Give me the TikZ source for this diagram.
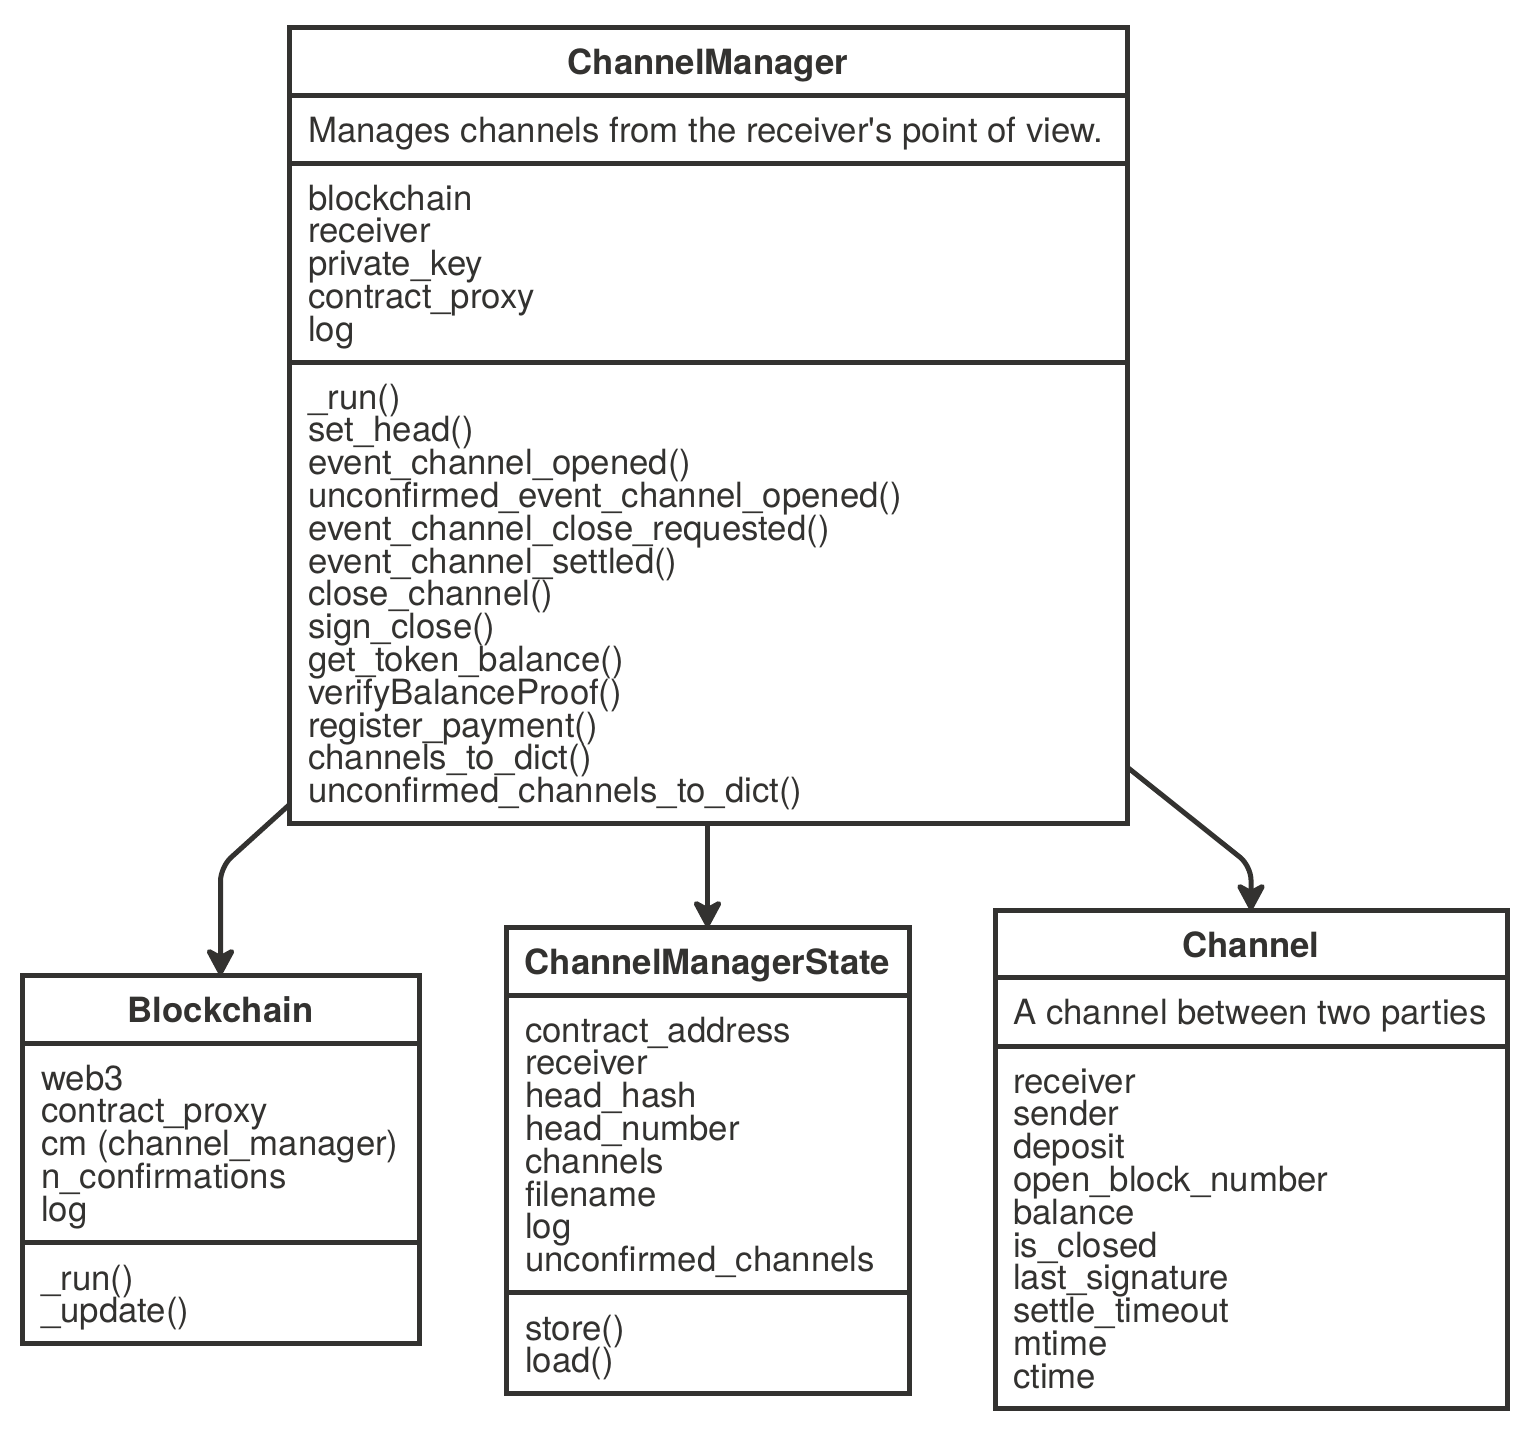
\documentclass[tikz,border=0pt]{standalone}
\usepackage{fontspec}
\setmainfont{TeX Gyre Heros}
\usetikzlibrary{arrows.meta,calc}
\definecolor{ink}{HTML}{333230}
\begin{document}
\begin{tikzpicture}[x=1pt,y=-1pt,
  box/.style={draw=ink,line width=5pt,inner sep=0pt,outer sep=0pt,anchor=north west,fill=white},
  txt/.style={text=ink,font=\fontsize{34.75}{40}\selectfont,inner sep=0pt,anchor=base west},
  ttl/.style={text=ink,font=\fontsize{34.75}{40}\selectfont\bfseries,inner sep=0pt,anchor=base},
  div/.style={draw=ink,line width=5pt},
  conn/.style={draw=ink,line width=5pt,rounded corners=14pt,arrows={-Stealth[length=32pt,width=34pt,inset=9pt,round]}}]
\useasboundingbox (0,0) rectangle (1522,1428);

% ---------- ChannelManager ----------
\node[box,minimum width=838pt,minimum height=796pt] (cm) at (289,27) {};
\draw[div] (cm.west |- 0,95) -- (cm.east |- 0,95);
\draw[div] (cm.west |- 0,163) -- (cm.east |- 0,163);
\draw[div] (cm.west |- 0,362) -- (cm.east |- 0,362);
\node[ttl] (cmt) at (708,74) {ChannelManager};
\node[txt] (cmd) at (308,142) {Manages channels from the receiver\textquotesingle s point of view.};
\foreach \t [count=\i from 0] in {blockchain,receiver,private\_key,contract\_proxy,log}
  \node[txt] (cma\i) at (308,{210+\i*32.9}) {\t};
\foreach \t [count=\i from 0] in {\_run(),set\_head(),event\_channel\_opened(),unconfirmed\_event\_channel\_opened(),event\_channel\_close\_requested(),event\_channel\_settled(),close\_channel(),sign\_close(),get\_token\_balance(),verifyBalanceProof(),register\_payment(),channels\_to\_dict(),unconfirmed\_channels\_to\_dict()}
  \node[txt] (cmm\i) at (308,{409+\i*32.8}) {\t};

% ---------- Blockchain ----------
\node[box,minimum width=397pt,minimum height=368pt] (bc) at (22,975) {};
\draw[div] (bc.west |- 0,1043) -- (bc.east |- 0,1043);
\draw[div] (bc.west |- 0,1242) -- (bc.east |- 0,1242);
\node[ttl] (bct) at (220.5,1022) {Blockchain};
\foreach \t [count=\i from 0] in {web3,contract\_proxy,cm (channel\_manager),n\_confirmations,log}
  \node[txt] (bca\i) at (41,{1090+\i*32.8}) {\t};
\foreach \t [count=\i from 0] in {\_run(),\_update()}
  \node[txt] (bcm\i) at (41,{1290+\i*32.8}) {\t};

% ---------- ChannelManagerState ----------
\node[box,minimum width=403pt,minimum height=466pt] (cms) at (506,927) {};
\draw[div] (cms.west |- 0,995) -- (cms.east |- 0,995);
\draw[div] (cms.west |- 0,1292) -- (cms.east |- 0,1292);
\node[ttl] (cmst) at (707.5,974) {ChannelManagerState};
\foreach \t [count=\i from 0] in {contract\_address,receiver,head\_hash,head\_number,channels,filename,log,unconfirmed\_channels}
  \node[txt] (cmsa\i) at (525,{1042+\i*32.8}) {\t};
\foreach \t [count=\i from 0] in {store(),load()}
  \node[txt] (cmsm\i) at (525,{1340+\i*32.8}) {\t};

% ---------- Channel ----------
\node[box,minimum width=512pt,minimum height=498pt] (ch) at (995,910) {};
\draw[div] (ch.west |- 0,977) -- (ch.east |- 0,977);
\draw[div] (ch.west |- 0,1046) -- (ch.east |- 0,1046);
\node[ttl] (cht) at (1251,957) {Channel};
\node[txt] (chd) at (1013,1024) {A channel between two parties};
\foreach \t [count=\i from 0] in {receiver,sender,deposit,open\_block\_number,balance,is\_closed,last\_signature,settle\_timeout,mtime,ctime}
  \node[txt] (cha\i) at (1013,{1093+\i*32.8}) {\t};

% ---------- connectors ----------
\coordinate (ls) at (289,805);
\coordinate (lb) at (220.5,867);
\coordinate (rs) at (1127,767);
\coordinate (rb) at (1251,866);
\draw[conn] (ls) -- (lb) -- (bc.north);
\draw[conn] (cm.south -| cms.north) -- (cms.north);
\draw[conn] (rs) -- (rb) -- (ch.north);
\end{tikzpicture}
\end{document}
